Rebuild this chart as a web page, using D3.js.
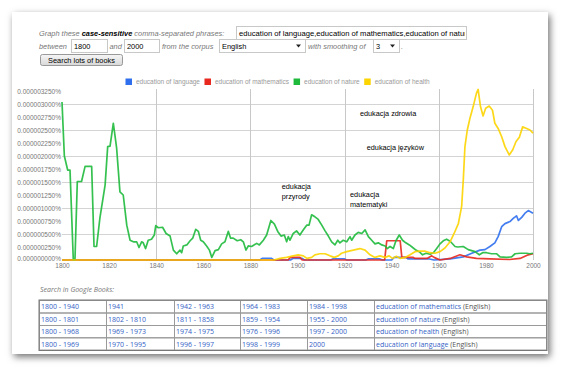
<!DOCTYPE html>
<html>
<head>
<meta charset="UTF-8">
<title>Ngram - education of language, mathematics, nature, health</title>
<script src="https://cdn.jsdelivr.net/npm/d3@7/dist/d3.min.js"></script>
<style>
  body { margin: 0; background: #fff; }
  #card { position: absolute; left: 12px; top: 12px; width: 536px; height: 342px;
          background: #fff; box-shadow: 2px 3px 7px rgba(0,0,0,0.55); }
  svg { position: absolute; left: 0; top: 0; }
  text { font-family: "Liberation Sans", Arial, sans-serif; }
  .tbl { font-family: "Open Sans", sans-serif; }
</style>
</head>
<body>
<div id="card"></div>
<script>
  // values are in millionths of a percent (3.0 -> 0.000003000%)
  const UNIT = 1e-6;

  const seriesNames = ["education of language", "education of mathematics", "education of nature", "education of health"];
  const seriesColors = ["#2f6fee", "#e8281e", "#1fba3c", "#fcd400"];

  const languageYears = [1800, 1884, 1885, 1889, 1890, 1897, 1898, 1902, 1903, 1914, 1915, 1920, 1921, 1929, 1930, 1935, 1936, 1940, 1941, 1946, 1947, 1956, 1958, 1964.8, 1970.4, 1974, 1977.5, 1979.6, 1981.7, 1983.8, 1985.2, 1986.7, 1988.1, 1990.2, 1991.6, 1993, 1993.8, 1995.2, 1996.6, 1998, 2000];
  const languageVals  = [0, 0, 0.03, 0.03, 0, 0, 0.03, 0.03, 0, 0, 0.02, 0.02, 0, 0, 0.02, 0.02, 0, 0, 0.05, 0.05, 0.02, 0.02, 0, 0.02, 0.06, 0.13, 0.19, 0.20, 0.26, 0.33, 0.45, 0.64, 0.70, 0.74, 0.80, 0.85, 0.76, 0.82, 0.90, 0.95, 0.90];

  const mathYears = [1800, 1896, 1897, 1901, 1902, 1937, 1937.9, 1943.6, 1944.3, 1949, 1950, 1955, 1957, 1958, 1960.5, 1964.8, 1969, 1971.8, 1976, 1981.7, 1990, 1994.5, 1998, 2000];
  const mathVals  = [0, 0, 0.05, 0.05, 0, 0, 0.37, 0.37, 0.05, 0.05, 0.03, 0.03, 0.08, 0.05, 0, 0.03, 0.10, 0.06, 0.03, 0.02, 0.01, 0.03, 0.10, 0.12];

  const natureYears = [1800, 1801, 1802.4, 1803.4, 1804.8, 1805.5, 1806.5, 1808.3, 1809.8, 1812.6, 1813.6, 1814.7, 1816.1, 1818.3, 1819.4, 1820.4, 1821.8, 1823.2, 1824.6, 1826, 1827.5, 1828.9, 1830.3, 1831.7, 1832.7, 1833.8, 1834.5, 1835.5, 1836.6, 1838, 1839.2, 1839.8, 1840.9, 1842.7, 1844.2, 1845.9, 1847.3, 1848.7, 1850.1, 1850.8, 1851.5, 1853, 1854.4, 1855.5, 1856.8, 1857.9, 1858.9, 1860, 1861.4, 1862.6, 1863.6, 1865, 1866.4, 1867.8, 1869.2, 1870.6, 1871.6, 1872.7, 1874.4, 1875.9, 1877, 1878.1, 1879.1, 1880.5, 1882.7, 1883.8, 1885.5, 1886.9, 1888.7, 1890.2, 1891.6, 1893, 1894.4, 1895.4, 1896.1, 1896.8, 1898.2, 1899.6, 1901, 1902.5, 1903.9, 1904.9, 1906, 1907.4, 1908.8, 1910.3, 1911.7, 1913.1, 1914.5, 1915.9, 1917.1, 1918, 1919.4, 1920.9, 1922.3, 1923, 1924.4, 1925.8, 1927.3, 1928.7, 1930.1, 1931.5, 1932.9, 1934.3, 1935.8, 1937.2, 1938.1, 1939.3, 1940.7, 1941.8, 1943.2, 1944.6, 1946, 1947.5, 1948.9, 1950.3, 1951.7, 1953.1, 1954.6, 1956.3, 1957.7, 1959.1, 1960.5, 1961.9, 1963.3, 1964.8, 1966.9, 1968, 1970.4, 1972.5, 1975.4, 1977.2, 1978.6, 1980.3, 1982.4, 1984.6, 1986, 1988.8, 1990.9, 1992.4, 1994.5, 1997.3, 1998.7, 2000];
  const natureVals  = [3.04, 2.0, 1.73, 1.73, 0, 0, 1.51, 1.51, 1.80, 1.80, 0.26, 0.26, 0.81, 1.44, 2.18, 2.19, 2.63, 2.15, 1.31, 1.25, 0.67, 0.38, 0.35, 0.35, 0.24, 0.35, 0.33, 0.22, 0.38, 0.40, 0.48, 0.66, 0.62, 0.63, 0.51, 0.46, 0.19, 0.12, 0.19, 0.14, 0.27, 0.29, 0.37, 0.42, 0.59, 0.55, 0.38, 0.35, 0.27, 0.19, 0.05, 0.18, 0.20, 0.31, 0.35, 0.55, 0.42, 0.42, 0.37, 0.39, 0.35, 0.19, 0.27, 0.26, 0.32, 0.29, 0.38, 0.48, 0.76, 0.69, 0.55, 0.46, 0.48, 0.35, 0.45, 0.38, 0.51, 0.56, 0.48, 0.58, 0.67, 0.67, 0.87, 0.83, 0.78, 0.67, 0.56, 0.46, 0.35, 0.29, 0.38, 0.33, 0.38, 0.35, 0.45, 0.38, 0.48, 0.53, 0.51, 0.58, 0.45, 0.38, 0.31, 0.33, 0.29, 0.27, 0.22, 0.26, 0.22, 0.37, 0.48, 0.38, 0.33, 0.29, 0.24, 0.19, 0.16, 0.10, 0.13, 0.11, 0.14, 0.22, 0.31, 0.37, 0.40, 0.36, 0.26, 0.25, 0.26, 0.20, 0.16, 0.10, 0.14, 0.14, 0.12, 0.12, 0.06, 0.05, 0.06, 0.12, 0.13, 0.13, 0.12, 0.13];

  const healthYears = [1800, 1890, 1892.6, 1895.4, 1898.2, 1900.3, 1902.5, 1904, 1906, 1907.4, 1909.5, 1911.7, 1913.8, 1915.6, 1917.3, 1918.7, 1920.9, 1923.7, 1926.5, 1928.7, 1930.8, 1932.9, 1935, 1937.2, 1938.9, 1940.3, 1942, 1943.6, 1945.7, 1947.8, 1949.9, 1952, 1954, 1956.3, 1958.4, 1960.5, 1962.6, 1964.8, 1966.5, 1968.3, 1969.7, 1970.4, 1971.1, 1972.1, 1973.2, 1974.6, 1976, 1976.7, 1977.7, 1978.8, 1979.9, 1981.4, 1982.8, 1983.8, 1985.2, 1986.7, 1988.1, 1989.9, 1991.4, 1992.8, 1994.2, 1995.6, 1997.3, 1998.7, 2000];
  const healthVals  = [0, 0, 0.03, 0.05, 0.08, 0.10, 0.08, 0.03, 0.05, 0.10, 0.12, 0.12, 0.08, 0.05, 0.08, 0.13, 0.16, 0.19, 0.22, 0.19, 0.10, 0.05, 0.08, 0.05, 0.08, 0.03, 0.07, 0.03, 0.05, 0.10, 0.16, 0.17, 0.17, 0.14, 0.13, 0.16, 0.23, 0.35, 0.51, 0.70, 1.03, 1.54, 2.18, 2.50, 2.72, 2.95, 3.21, 3.28, 2.95, 2.77, 2.92, 2.96, 2.88, 2.63, 2.53, 2.37, 2.18, 2.02, 2.12, 2.28, 2.36, 2.56, 2.53, 2.50, 2.44];

  const yTickVals = [0, 0.25, 0.5, 0.75, 1, 1.25, 1.5, 1.75, 2, 2.25, 2.5, 2.75, 3, 3.25];
  const yGridVals = [0.5, 1, 1.5, 2, 2.5, 3];
  const xTickVals = [1800, 1820, 1840, 1860, 1880, 1900, 1920, 1940, 1960, 1980, 2000];
  const xGridVals = [1840, 1880, 1920, 1960, 2000];

  // annotations: [year, value, lines]
  const notes = [
    [1926.5, 2.76, ["edukacja zdrowia"]],
    [1929.4, 2.12, ["edukacja języków"]],
    [1893.3, 1.37, ["edukacja", "przyrody"]],
    [1922.3, 1.22, ["edukacja", "matematyki"]]
  ];

  const tableRanges = [
    ["1800 - 1940", "1941", "1942 - 1963", "1964 - 1983", "1984 - 1998"],
    ["1800 - 1801", "1802 - 1810", "1811 - 1858", "1859 - 1954", "1955 - 2000"],
    ["1800 - 1968", "1969 - 1973", "1974 - 1975", "1976 - 1996", "1997 - 2000"],
    ["1800 - 1969", "1970 - 1995", "1996 - 1997", "1998 - 1999", "2000"]
  ];
  const tablePhrases = ["education of mathematics", "education of nature", "education of health", "education of language"];

  const W = 563, H = 377;
  const svg = d3.select("body").append("svg").attr("width", W).attr("height", H);

  //
  // form at the top
  //
  const form = svg.append("g").style("font-size", "7.4px");

  const line1 = form.append("text").attr("x", 39).attr("y", 35.5).attr("fill", "#777").style("font-style", "italic");
  line1.append("tspan").text("Graph these ");
  line1.append("tspan").attr("fill", "#000").style("font-weight", "bold").text("case-sensitive");
  line1.append("tspan").text(" comma-separated phrases:");

  function box(x0, y0, w, h, label, arrow, size) {
    const g = form.append("g");
    g.append("rect").attr("x", x0 + 0.5).attr("y", y0 + 0.5).attr("width", w).attr("height", h)
      .attr("fill", "#fff").attr("stroke", "#c8c8c8");
    const id = "clip" + Math.round(x0);
    g.append("clipPath").attr("id", id).append("rect").attr("x", x0 + 1).attr("y", y0).attr("width", w - 2).attr("height", h);
    g.append("text").attr("x", x0 + 3).attr("y", y0 + h - 3.3).attr("fill", "#000")
      .style("font-size", size || "7.4px")
      .attr("clip-path", "url(#" + id + ")").text(label);
    if (arrow) {
      const ax = x0 + w - 9;
      const ay = y0 + h / 2 - 1;
      g.append("path").attr("d", `M${ax},${ay} L${ax + 5},${ay} L${ax + 2.5},${ay + 3} Z`).attr("fill", "#222");
    }
  }

  box(236, 26, 230, 13, "education of language,education of mathematics,education of nature", false, "7.65px");

  const italics = [[39, "between"], [109.5, "and"], [162, "from the corpus"], [308, "with smoothing of"], [401, "."]];
  italics.forEach(d => {
    form.append("text").attr("x", d[0]).attr("y", 48.8).attr("fill", "#777").style("font-style", "italic").text(d[1]);
  });
  box(71, 39, 36, 13, "1800", false);
  box(124, 39, 35, 13, "2000", false);
  box(219, 39, 86, 13, "English", true);
  box(373, 39, 26, 13, "3", true);

  const grad = svg.append("defs").append("linearGradient").attr("id", "btn").attr("x1", 0).attr("x2", 0).attr("y1", 0).attr("y2", 1);
  grad.append("stop").attr("offset", 0).attr("stop-color", "#f6f6f6");
  grad.append("stop").attr("offset", 1).attr("stop-color", "#d8d8d8");
  form.append("rect").attr("x", 40.5).attr("y", 54.5).attr("width", 82).attr("height", 11).attr("rx", 2)
    .attr("fill", "url(#btn)").attr("stroke", "#999");
  form.append("text").attr("x", 81.5).attr("y", 62.7).attr("text-anchor", "middle").attr("fill", "#000")
    .text("Search lots of books");

  //
  // chart
  //
  const x = d3.scaleLinear().domain([1800, 2000]).range([62, 533]);
  const y = d3.scaleLinear().domain([0, 3.25]).range([260, 91]);

  const chart = svg.append("g");

  chart.selectAll(".hgrid").data(yGridVals).enter().append("line")
    .attr("x1", x(1800)).attr("x2", x(2000))
    .attr("y1", d => Math.round(y(d)) + 0.5).attr("y2", d => Math.round(y(d)) + 0.5)
    .attr("stroke", "#d4d4d4");

  chart.selectAll(".vgrid").data(xGridVals).enter().append("line")
    .attr("x1", d => Math.round(x(d)) + 0.5).attr("x2", d => Math.round(x(d)) + 0.5)
    .attr("y1", 89).attr("y2", y(0))
    .attr("stroke", "#c8c8c8");

  const yAxis = chart.append("g").attr("transform", "translate(62,0)")
    .call(d3.axisLeft(y).tickValues(yTickVals).tickSize(0).tickPadding(1)
      .tickFormat(d => (d * UNIT).toFixed(9) + "%"));
  yAxis.select(".domain").remove();
  yAxis.selectAll("text").attr("fill", "#777").style("font-size", "6.5px").style("font-family", "Liberation Sans, Arial, sans-serif");
  // lift the zero label a touch so it clears the 1800 tick label
  yAxis.selectAll("text").filter(d => d === 0).attr("dy", "0.1em");

  const xAxis = chart.append("g").attr("transform", "translate(0,260)")
    .call(d3.axisBottom(x).tickValues(xTickVals).tickSize(0).tickPadding(3.5).tickFormat(d3.format("d")));
  xAxis.select(".domain").remove();
  xAxis.selectAll("text").attr("fill", "#777").style("font-size", "6.5px").style("font-family", "Liberation Sans, Arial, sans-serif");

  const series = [
    [languageYears, languageVals],
    [mathYears, mathVals],
    [natureYears, natureVals],
    [healthYears, healthVals]
  ];

  const line = d3.line().x(d => x(d[0])).y(d => y(d[1]));

  series.forEach((s, i) => {
    const pts = s[0].map((yr, k) => [yr, s[1][k]]);
    chart.append("path").datum(pts)
      .attr("d", line)
      .attr("fill", "none")
      .attr("stroke", seriesColors[i])
      .attr("stroke-width", 1.7)
      .attr("stroke-opacity", 0.9)
      .attr("stroke-linejoin", "round");
  });

  // legend
  const legend = svg.append("g").style("font-size", "6.5px");
  let lx = 125.5;
  seriesNames.forEach((name, i) => {
    legend.append("rect").attr("x", lx).attr("y", 78.5).attr("width", 6.5).attr("height", 6.5).attr("fill", seriesColors[i]);
    const t = legend.append("text").attr("x", lx + 10.5).attr("y", 84).attr("fill", "#999").text(name);
    lx += 10.5 + t.node().getComputedTextLength() + 4.5;
  });

  // annotations
  notes.forEach(n => {
    const t = chart.append("text").attr("x", x(n[0])).attr("y", y(n[1]))
      .attr("fill", "#000").style("font-size", "7.3px");
    n[2].forEach((s, k) => {
      t.append("tspan").attr("x", x(n[0])).attr("dy", k === 0 ? 0 : 10).text(s);
    });
  });

  //
  // table of book searches
  //
  const tbl = svg.append("g").attr("class", "tbl").style("font-size", "7px");
  tbl.append("text").attr("class", "tbl").attr("x", 40).attr("y", 291.5).attr("fill", "#777")
    .style("font-style", "italic").text("Search in Google Books:");

  const colX = [39, 106, 174, 240, 307, 374, 546];
  const rowY = [300, 312.5, 325, 337.3, 349.5];

  tableRanges.forEach((row, r) => {
    for (let c = 0; c < 6; c++) {
      tbl.append("rect").attr("x", colX[c] + 0.5).attr("y", rowY[r] + 0.5)
        .attr("width", colX[c + 1] - colX[c]).attr("height", rowY[r + 1] - rowY[r])
        .attr("fill", "none").attr("stroke", "#9a9a9a");
    }
    row.forEach((txt, c) => {
      tbl.append("text").attr("class", "tbl").attr("x", colX[c] + 2).attr("y", rowY[r] + 9.2)
        .attr("fill", "#3563c6").text(txt);
    });
    const t = tbl.append("text").attr("class", "tbl").attr("x", colX[5] + 2).attr("y", rowY[r] + 9.2);
    t.append("tspan").attr("fill", "#3563c6").text(tablePhrases[r]);
    t.append("tspan").attr("fill", "#555").text(" (English)");
  });
  tbl.append("rect").attr("x", colX[0]).attr("y", rowY[0]).attr("width", colX[6] - colX[0] + 1)
    .attr("height", rowY[4] - rowY[0] + 1).attr("fill", "none").attr("stroke", "#777");
</script>
</body>
</html>
